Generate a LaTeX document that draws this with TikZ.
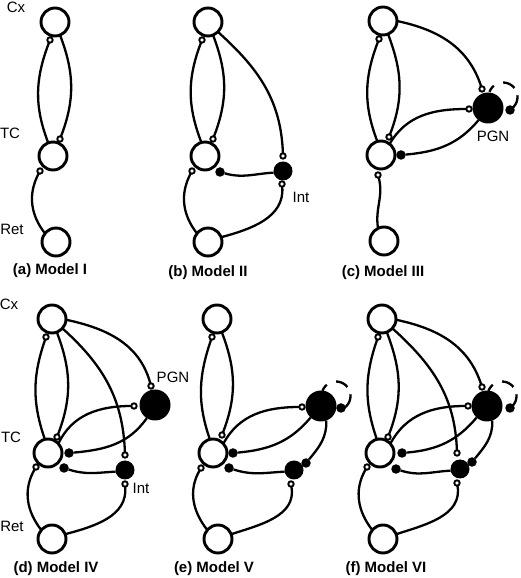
\documentclass[tikz,border=0pt]{standalone}
\usepackage{fontspec}
\setmainfont{Liberation Sans}
\tikzset{
  cell/.style={circle,draw=black,fill=white,line width=2.9pt,minimum size=28pt,inner sep=0pt,outer sep=0pt},
  pgncell/.style={circle,fill=black,minimum size=31pt,inner sep=0pt,outer sep=0pt},
  intcell/.style={circle,fill=black,minimum size=19pt,inner sep=0pt,outer sep=0pt},
  opensyn/.style={circle,draw=black,fill=white,line width=1.9pt,minimum size=5.4pt,inner sep=0pt,outer sep=0pt},
  filledsyn/.style={circle,fill=black,minimum size=9.5pt,inner sep=0pt,outer sep=0pt},
  lnk/.style={line width=2.3pt,black},
  lbl/.style={font=\fontsize{15}{16}\selectfont,inner sep=0pt},
  ttl/.style={font=\fontsize{15}{16}\selectfont\bfseries,inner sep=0pt},
  loopdash/.style={lnk,dash pattern=on 7.5pt off 10pt on 13pt off 8pt on 20pt off 60pt}
}
\begin{document}
\begin{tikzpicture}[x=1pt,y=1pt]
\useasboundingbox (0,0) rectangle (520,578);
% Model I
\node[cell] (aC) at (55,578-22) {};
\node[cell] (aT) at (53,578-156) {};
\node[cell] (aR) at (56,578-242) {};
\node[opensyn] (as1) at (50,578-40) {};
\node[opensyn] (as2) at (60,578-139) {};
\node[opensyn] (as3) at (40,578-171) {};
\draw[lnk] (aT.110) to[out=111,in=-111] (as1);
\draw[lnk] (aC.-69) to[out=-69,in=69] (as2);
\draw[lnk] (aR.142) to[out=128,in=-118] (as3);
\node[lbl] (al1) at (16,578-7) {Cx};
\node[lbl] (al2) at (10,578-133) {TC};
\node[lbl] (al3) at (12,578-229) {Ret};
\node[ttl] (at) at (50,578-271) {(a) Model I};
% Model II
\node[cell] (bC) at (208,578-22) {};
\node[cell] (bT) at (205,578-156) {};
\node[cell] (bR) at (208,578-242) {};
\node[intcell] (bI) at (283,578-171) {};
\node[opensyn] (bs1) at (202,578-40) {};
\node[opensyn] (bs2) at (213,578-139) {};
\node[opensyn] (bs3) at (192,578-171) {};
\node[opensyn] (bs4) at (283,578-156) {};
\node[opensyn] (bs5) at (282,578-184) {};
\node[filledsyn] (bf1) at (220,578-172) {};
\draw[lnk] (bT.105) to[out=111,in=-111] (bs1);
\draw[lnk] (bC.-69) to[out=-69,in=69] (bs2);
\draw[lnk] (bR.142) to[out=128,in=-118] (bs3);
\draw[lnk] (bC.-45) to[out=-42,in=92] (bs4);
\draw[lnk] (bR.20) to[out=15,in=-85] (bs5);
\draw[lnk] (bI.190) to[out=183,in=-16] (bf1);
\node[lbl] (bl1) at (301,578-197) {Int};
\node[ttl] (bt) at (208,578-273) {(b) Model II};
% Model III
\node[cell] (cC) at (383,578-21) {};
\node[cell] (cT) at (381,578-155) {};
\node[cell] (cR) at (384,578-241) {};
\node[pgncell] (cP) at (488,578-108) {};
\node[opensyn] (cs1) at (379,578-39) {};
\node[opensyn] (cs2) at (389,578-137) {};
\node[opensyn] (cs3) at (378,578-175) {};
\node[opensyn] (cs4) at (482,578-89) {};
\node[opensyn] (cs5) at (469,578-109) {};
\node[filledsyn] (cf1) at (401,578-155) {};
\node[filledsyn] (cf2) at (510,578-110) {};
\coordinate (cL) at (503,578-97);
\draw[lnk] (cT.105) to[out=111,in=-111] (cs1);
\draw[lnk] (cC.-69) to[out=-69,in=69] (cs2);
\draw[lnk] (cR.115) to[out=100,in=-75] (cs3);
\draw[lnk] (cC.0) to[out=-12,in=108] (cs4);
\draw[lnk] (cT.52) to[out=60,in=180] (cs5);
\draw[lnk] (cP.232) to[out=-130,in=5] (cf1);
\draw[loopdash] ([shift={(159:14.5)}]cL) arc[start angle=159,end angle=-65,radius=14.5];
\node[lbl] (cl1) at (493,578-136) {PGN};
\node[ttl] (ct) at (383,578-273) {(c) Model III};
% Model IV
\node[cell] (dC) at (52,578-319) {};
\node[cell] (dT) at (48,578-453) {};
\node[cell] (dR) at (52,578-539) {};
\node[pgncell] (dP) at (155,578-405) {};
\node[intcell] (dI) at (125,578-470) {};
\node[opensyn] (ds1) at (46,578-337) {};
\node[opensyn] (ds2) at (57,578-437) {};
\node[opensyn] (ds3) at (36,578-467) {};
\node[opensyn] (ds4) at (151,578-386) {};
\node[opensyn] (ds5) at (134,578-406) {};
\node[opensyn] (ds6) at (125,578-455) {};
\node[opensyn] (ds7) at (125,578-484) {};
\node[filledsyn] (df1) at (69,578-453) {};
\node[filledsyn] (df2) at (64,578-468) {};
\draw[lnk] (dT.103) to[out=109,in=-109] (ds1);
\draw[lnk] (dC.-70) to[out=-69,in=69] (ds2);
\draw[lnk] (dR.140) to[out=128,in=-120] (ds3);
\draw[lnk] (dC.-3) to[out=-12,in=105] (ds4);
\draw[lnk] (dC.-42) to[out=-42,in=92] (ds6);
\draw[lnk] (dT.42) to[out=65,in=180] (ds5);
\draw[lnk] (dP.238) to[out=-125,in=5] (df1);
\draw[lnk] (dI.190) to[out=183,in=-18] (df2);
\draw[lnk] (dR.20) to[out=15,in=-85] (ds7);
\node[lbl] (dl1) at (9,578-304) {Cx};
\node[lbl] (dl2) at (11,578-437) {TC};
\node[lbl] (dl3) at (12,578-526) {Ret};
\node[lbl] (dl4) at (173,578-377) {PGN};
\node[lbl] (dl5) at (141,578-488) {Int};
\node[ttl] (dt) at (56,578-569) {(d) Model IV};
% Model V
\node[cell] (eC) at (217,578-319) {};
\node[cell] (eT) at (213,578-453) {};
\node[cell] (eR) at (218,578-539) {};
\node[pgncell] (eP) at (321,578-406) {};
\node[intcell] (eI) at (294,578-470) {};
\node[opensyn] (es1) at (212,578-337) {};
\node[opensyn] (es2) at (222,578-435) {};
\node[opensyn] (es3) at (201,578-468) {};
\node[opensyn] (es4) at (302,578-407) {};
\node[opensyn] (es5) at (291,578-484) {};
\node[filledsyn] (ef1) at (233,578-453) {};
\node[filledsyn] (ef2) at (229,578-468) {};
\node[filledsyn] (ef3) at (306,578-463) {};
\node[filledsyn] (ef4) at (341,578-408) {};
\coordinate (eL) at (336,578-396);
\draw[lnk] (eT.103) to[out=109,in=-109] (es1);
\draw[lnk] (eC.-70) to[out=-69,in=69] (es2);
\draw[lnk] (eR.140) to[out=128,in=-120] (es3);
\draw[lnk] (eT.42) to[out=62,in=180] (es4);
\draw[lnk] (eP.228) to[out=-130,in=5] (ef1);
\draw[lnk] (eI.190) to[out=183,in=-18] (ef2);
\draw[lnk] (eR.20) to[out=18,in=-80] (es5);
\draw[lnk] (eP.-70) to[out=-88,in=50] (ef3);
\draw[loopdash] ([shift={(159:14.5)}]eL) arc[start angle=159,end angle=-65,radius=14.5];
\node[ttl] (et) at (214,578-569) {(e) Model V};
% Model VI
\node[cell] (fC) at (382,578-319) {};
\node[cell] (fT) at (380,578-453) {};
\node[cell] (fR) at (383,578-539) {};
\node[pgncell] (fP) at (487,578-406) {};
\node[intcell] (fI) at (460,578-469) {};
\node[opensyn] (fs1) at (378,578-337) {};
\node[opensyn] (fs2) at (388,578-437) {};
\node[opensyn] (fs3) at (367,578-467) {};
\node[opensyn] (fs4) at (482,578-387) {};
\node[opensyn] (fs5) at (468,578-406) {};
\node[opensyn] (fs6) at (457,578-453) {};
\node[opensyn] (fs7) at (457,578-483) {};
\node[filledsyn] (ff1) at (402,578-453) {};
\node[filledsyn] (ff2) at (396,578-469) {};
\node[filledsyn] (ff3) at (472,578-462) {};
\node[filledsyn] (ff4) at (510,578-408) {};
\coordinate (fL) at (502,578-396);
\draw[lnk] (fT.103) to[out=109,in=-109] (fs1);
\draw[lnk] (fC.-70) to[out=-69,in=69] (fs2);
\draw[lnk] (fR.140) to[out=128,in=-120] (fs3);
\draw[lnk] (fC.-3) to[out=-12,in=108] (fs4);
\draw[lnk] (fC.-42) to[out=-42,in=92] (fs6);
\draw[lnk] (fT.42) to[out=62,in=180] (fs5);
\draw[lnk] (fP.228) to[out=-130,in=5] (ff1);
\draw[lnk] (fI.190) to[out=183,in=-18] (ff2);
\draw[lnk] (fR.20) to[out=18,in=-80] (fs7);
\draw[lnk] (fP.-70) to[out=-88,in=50] (ff3);
\draw[loopdash] ([shift={(159:14.5)}]fL) arc[start angle=159,end angle=-65,radius=14.5];
\node[ttl] (ft) at (386,578-569) {(f) Model VI};
\end{tikzpicture}
\end{document}
